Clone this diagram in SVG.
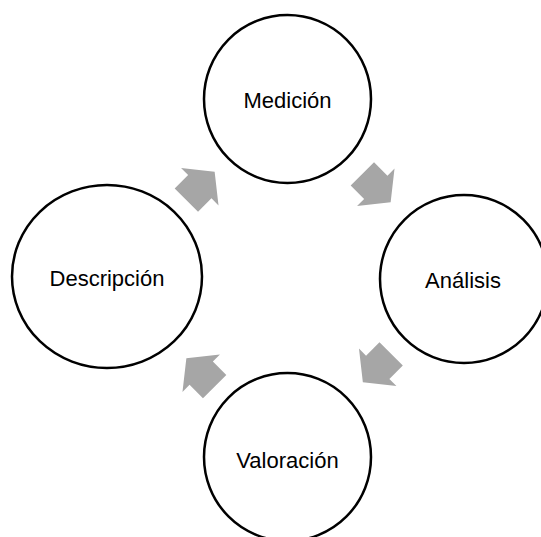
<svg xmlns="http://www.w3.org/2000/svg" width="541" height="537" viewBox="0 0 541 537">
<style>
.node{fill:#fff;stroke:#000;stroke-width:2.5}
.lbl{font-family:"Liberation Sans",Arial,sans-serif;font-size:22px;fill:#000;text-anchor:middle;dominant-baseline:central}
.arr{fill:#a6a6a6}
</style>
<defs>
<polygon id="ar" points="-20,-16.5 -1,-16.5 -1,-26.5 20,0 -1,26.5 -1,16.5 -20,16.5"/>
</defs>
<rect width="541" height="537" fill="#fff"/>
<g id="connectors">
<use href="#ar" class="arr" transform="translate(200.5,186) rotate(-45)"/>
<use href="#ar" class="arr" transform="translate(376.5,188) rotate(45)"/>
<use href="#ar" class="arr" transform="translate(377,368) rotate(135)"/>
<use href="#ar" class="arr" transform="translate(200.5,372.5) rotate(-135)"/>
</g>
<g id="medicion">
<ellipse class="node" cx="287.5" cy="99" rx="83.5" ry="84"/>
<text class="lbl" x="287.5" y="100">Medición</text>
</g>
<g id="analisis">
<ellipse class="node" cx="464" cy="279" rx="84" ry="84"/>
<text class="lbl" x="463" y="280">Análisis</text>
</g>
<g id="valoracion">
<ellipse class="node" cx="287.5" cy="457" rx="83.5" ry="84"/>
<text class="lbl" x="287.5" y="460">Valoración</text>
</g>
<g id="descripcion">
<ellipse class="node" cx="107" cy="276.5" rx="95" ry="91.5"/>
<text class="lbl" x="107" y="278">Descripción</text>
</g>
</svg>
